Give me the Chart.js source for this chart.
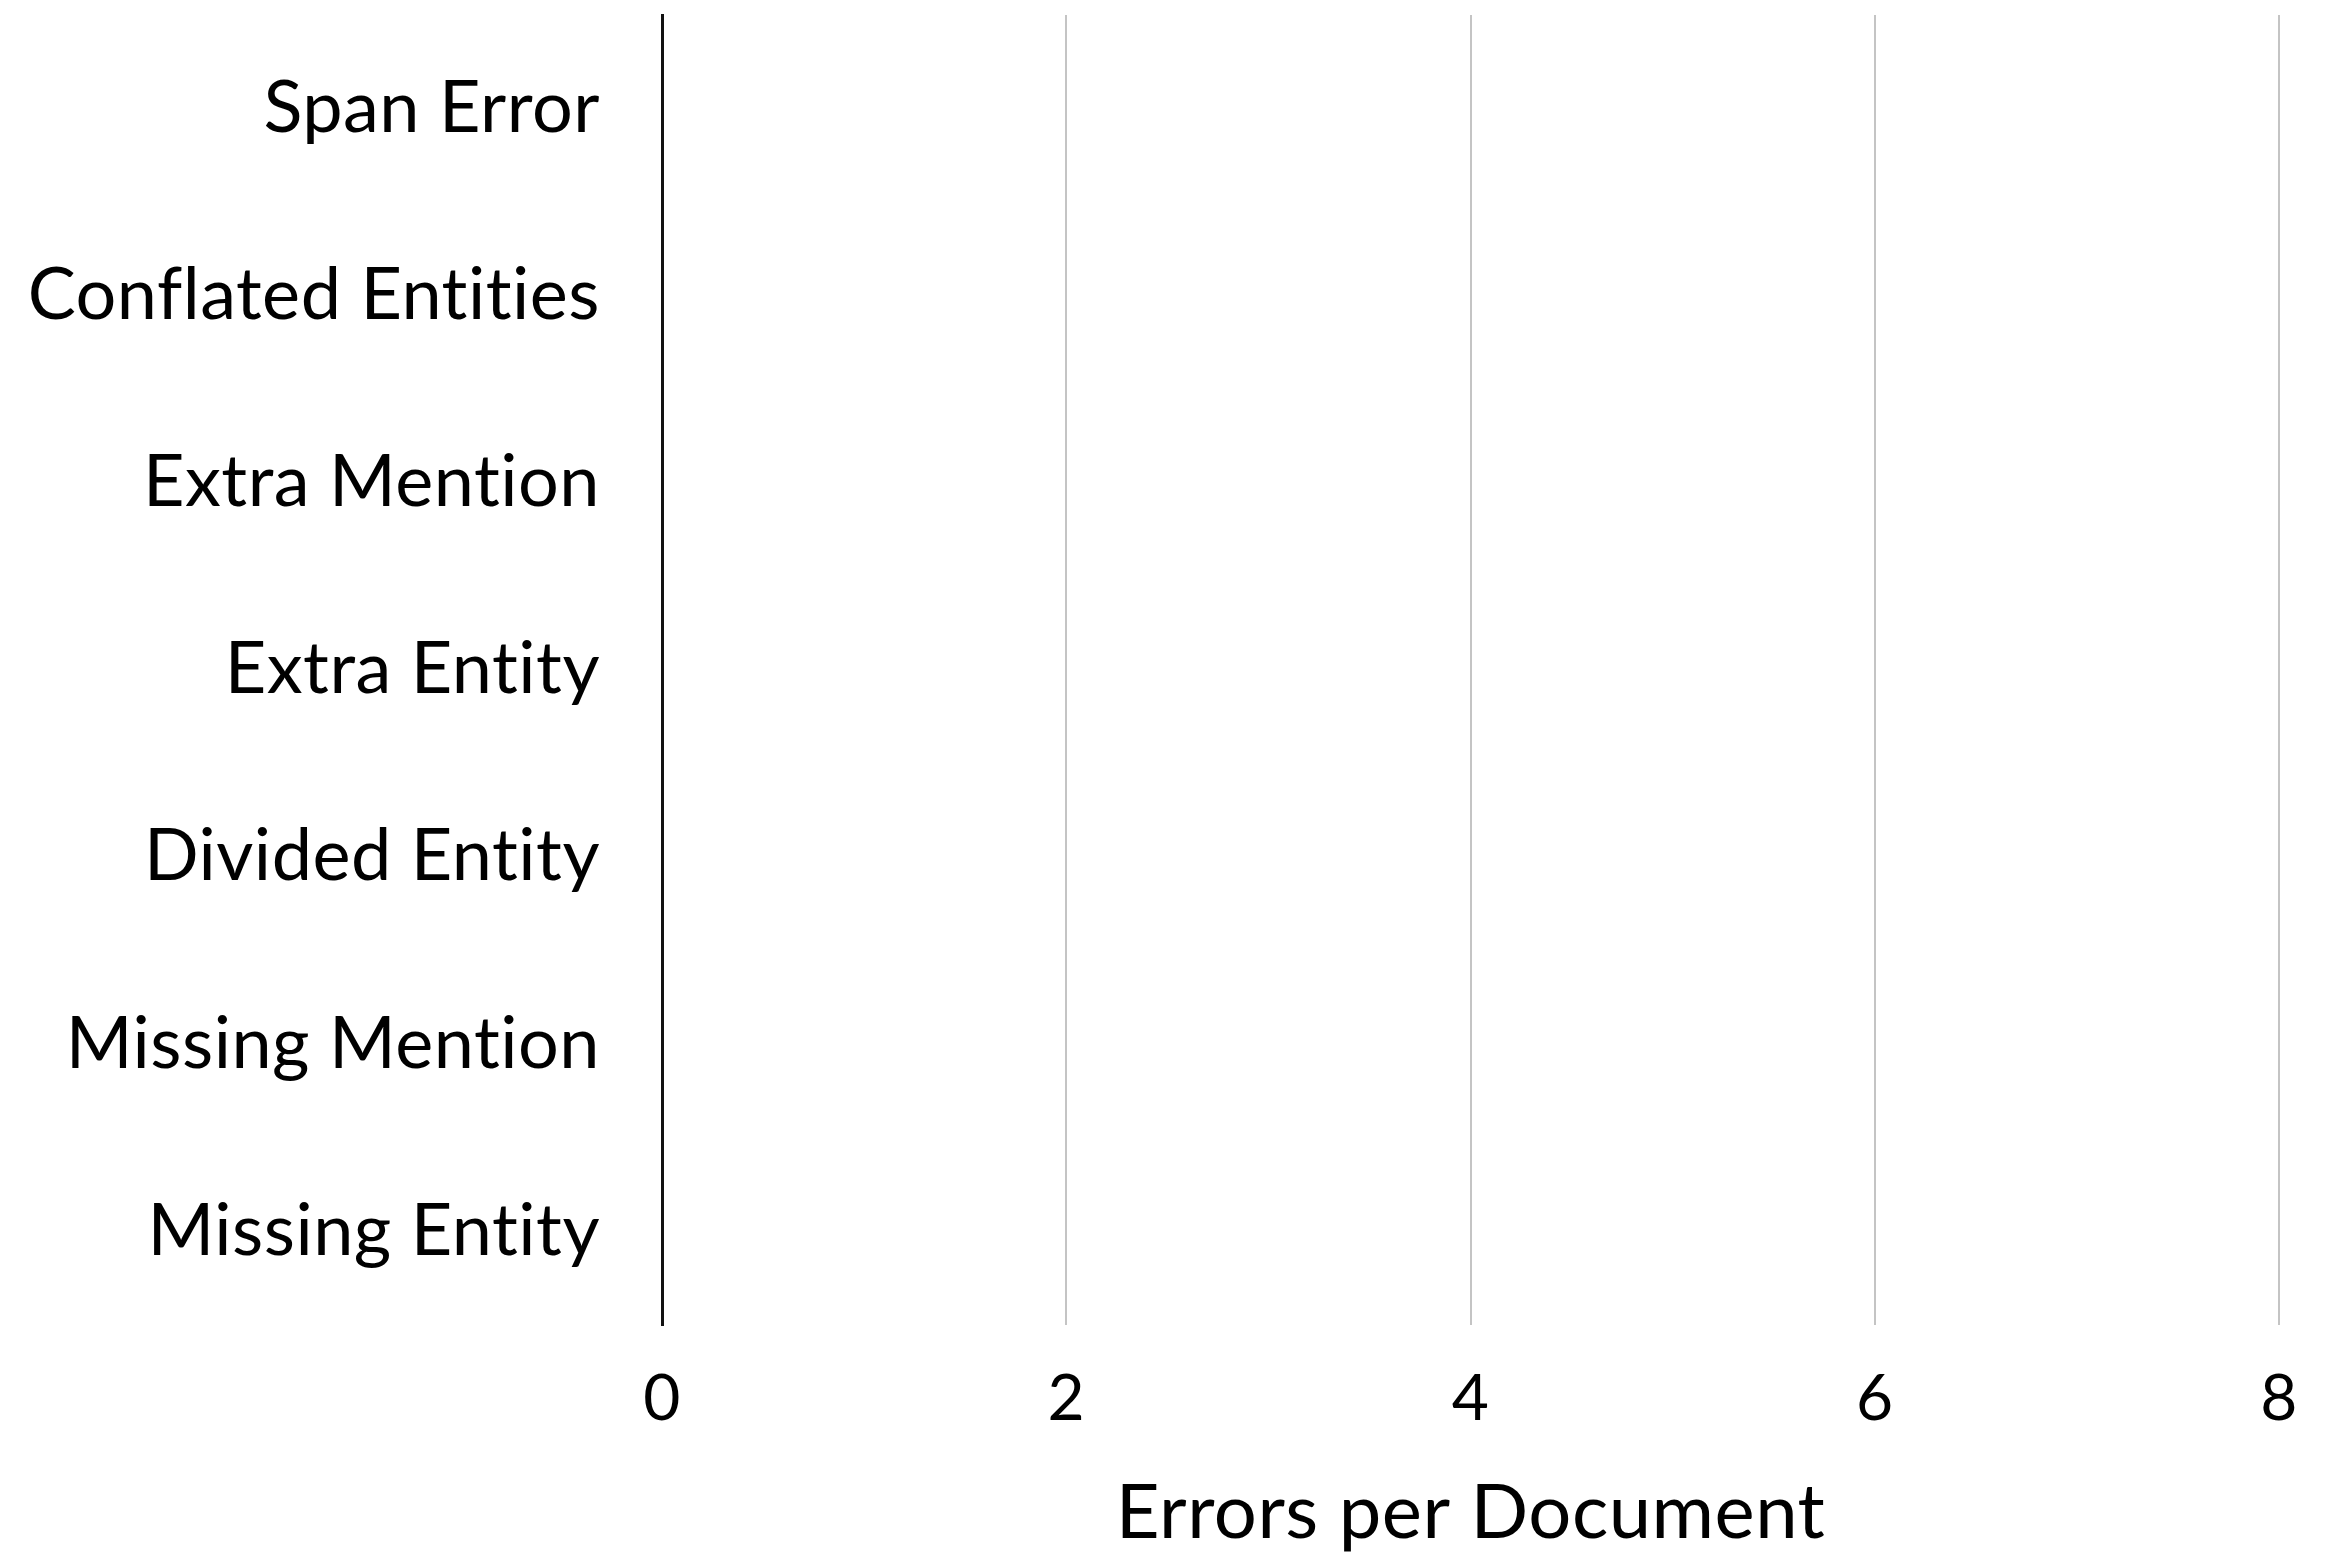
<!DOCTYPE html>
<html>
<head>
<meta charset="utf-8">
<title>Errors per Document</title>
<script src="https://cdn.jsdelivr.net/npm/chart.js@4.4.1/dist/chart.umd.min.js"></script>
<style>
  html, body { margin: 0; padding: 0; background: #fff; }
  #wrap { width: 2326px; height: 1559px; }
</style>
</head>
<body>
<div id="wrap"><canvas id="grafico" width="2326" height="1559"></canvas></div>
<script>
// datos del gráfico (no hay barras visibles en la figura)
const categorias = ['Span Error', 'Conflated Entities', 'Extra Mention', 'Extra Entity', 'Divided Entity', 'Missing Mention', 'Missing Entity'];
const errores = [0, 0, 0, 0, 0, 0, 0];
const ticksX = [0, 2, 4, 6, 8];
const tituloX = 'Errors per Document';

const fuente = 'Lato, "Open Sans", sans-serif';

// evitar ligaduras "ti" de Lato con un poco de espaciado
const sinLigaduras = {
  id: 'sinLigaduras',
  beforeDraw(chart){
    try{ chart.ctx.letterSpacing = '0.5px'; }catch(e){}
  }
};

const ctx = document.getElementById('grafico').getContext('2d');
new Chart(ctx, {
  type: 'bar',
  data: {
    labels: categorias,
    datasets: [{
      label: 'Errores',
      data: errores,
      backgroundColor: '#4472c4',
      borderWidth: 0
    }]
  },
  plugins: [sinLigaduras],
  options: {
    indexAxis: 'y',
    responsive: false,
    animation: false,
    layout: { padding: { top: 15, right: 47, bottom: 0, left: 0 } },
    plugins: {
      legend: { display: false },
      tooltip: { enabled: false }
    },
    scales: {
      x: {
        min: ticksX[0],
        max: ticksX[ticksX.length - 1],
        afterBuildTicks: (scale) => { scale.ticks = ticksX.map(v => ({ value: v })); },
        afterFit: (scale) => {
          scale.height = 234;
          scale.paddingLeft = 0;
          scale.paddingRight = 0;
        },
        border: { display: false },
        grid: {
          drawTicks: false,
          color: (c) => c.tick && c.tick.value === 0 ? 'rgba(0,0,0,0)' : '#c4c4c4',
          lineWidth: 2
        },
        ticks: {
          padding: 36,
          color: '#000',
          font: { family: fuente, size: 64 }
        },
        title: {
          display: true,
          text: tituloX,
          color: '#000',
          font: { family: fuente, size: 76 },
          padding: { top: 0, bottom: 0 }
        }
      },
      y: {
        afterFit: (scale) => {
          scale.width = 662;
          scale.paddingTop = 0;
          scale.paddingBottom = 0;
        },
        border: { display: true, color: '#111', width: 3 },
        grid: { display: false, drawTicks: false },
        ticks: {
          padding: 62,
          color: '#000',
          font: { family: fuente, size: 72 }
        }
      }
    }
  }
});
</script>
</body>
</html>
